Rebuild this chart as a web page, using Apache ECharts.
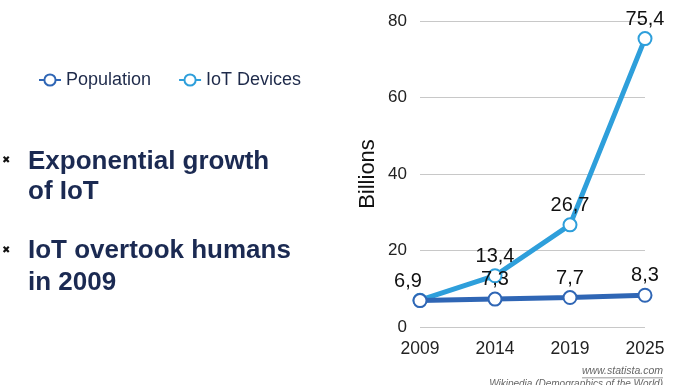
<!DOCTYPE html>
<html><head><meta charset="utf-8">
<script src="https://cdn.jsdelivr.net/npm/echarts@6/dist/echarts.min.js"></script>
<style>html,body{margin:0;padding:0;background:#fff}#c{width:696px;height:385px}</style>
</head><body><div id="c"></div>
<script>
const categories = ['2009', '2014', '2019', '2025'];
const population = [6.9, 7.3, 7.7, 8.3];
const iotDevices = [7.0, 13.4, 26.7, 75.4];
const yTicks = [0, 20, 40, 60, 80];

const fmt = v => String(v).replace('.', ',');
const chart = echarts.init(document.getElementById('c'));
const font = '"Liberation Sans", Arial, sans-serif';
chart.setOption({
  animation: false,
  textStyle: { fontFamily: font },
  legend: {
    left: 33, top: 66, itemWidth: 22, itemHeight: 14, itemGap: 27,
    textStyle: { fontSize: 18, color: '#1e2a4a', fontFamily: font },
    data: ['Population', 'IoT Devices']
  },
  grid: { left: 420, right: 51, top: 21, bottom: 58, containLabel: false },
  xAxis: {
    type: 'category', data: categories, boundaryGap: false,
    axisLine: { show: false }, axisTick: { show: false },
    axisLabel: { fontSize: 17.5, color: '#222', margin: 13 }
  },
  yAxis: {
    type: 'value', min: yTicks[0], max: yTicks[yTicks.length - 1], interval: 20,
    name: 'Billions', nameLocation: 'middle', nameGap: 41, nameRotate: 90,
    nameTextStyle: { fontSize: 22, color: '#111' },
    axisLine: { show: false }, axisTick: { show: false },
    axisLabel: { fontSize: 17, color: '#222', margin: 13 },
    splitLine: { lineStyle: { color: '#c8c8c8', width: 1 } }
  },
  series: [
    {
      name: 'Population', type: 'line', data: population, z: 3,
      symbol: 'emptyCircle', symbolSize: 13,
      lineStyle: { width: 5, color: '#2f66b5' },
      itemStyle: { color: '#2f66b5', borderWidth: 4 },
      label: {
        show: true, position: 'top', distance: 2, fontSize: 20, color: '#111',
        formatter: p => fmt(p.value)
      },
      labelLayout: p => p.dataIndex === 0 ? { dx: -12 } : {}
    },
    {
      name: 'IoT Devices', type: 'line', data: iotDevices, z: 2,
      symbol: 'emptyCircle', symbolSize: 13,
      lineStyle: { width: 5, color: '#2e9fdb' },
      itemStyle: { color: '#2e9fdb', borderWidth: 4 },
      label: {
        show: true, position: 'top', distance: 2, fontSize: 20, color: '#111',
        formatter: p => p.dataIndex === 0 ? '' : fmt(p.value)
      }
    }
  ],
  graphic: [
    { type: 'text', left: 2, top: 155, style: { text: '✖', fontSize: 10, fill: '#111' } },
    { type: 'text', left: 28, top: 147, style: { text: 'Exponential growth\nof IoT', fontSize: 26, fontWeight: 'bold', fill: '#1b2a52', lineHeight: 30, fontFamily: font } },
    { type: 'text', left: 2, top: 245, style: { text: '✖', fontSize: 10, fill: '#111' } },
    { type: 'text', left: 28, top: 235, style: { text: 'IoT overtook humans\nin 2009', fontSize: 26, fontWeight: 'bold', fill: '#1b2a52', lineHeight: 32, fontFamily: font } },
    { type: 'text', right: 33, top: 366, style: { text: 'www.statista.com', fontSize: 10.5, fontStyle: 'italic', fill: '#666', fontFamily: font } },
    { type: 'rect', right: 33, top: 377.5, shape: { width: 81, height: 0.8 }, style: { fill: '#777' } },
    { type: 'text', right: 33, top: 379, style: { text: 'Wikipedia (Demographics of the World)', fontSize: 10, fontStyle: 'italic', fill: '#666', fontFamily: font } }
  ]
});
</script></body></html>
